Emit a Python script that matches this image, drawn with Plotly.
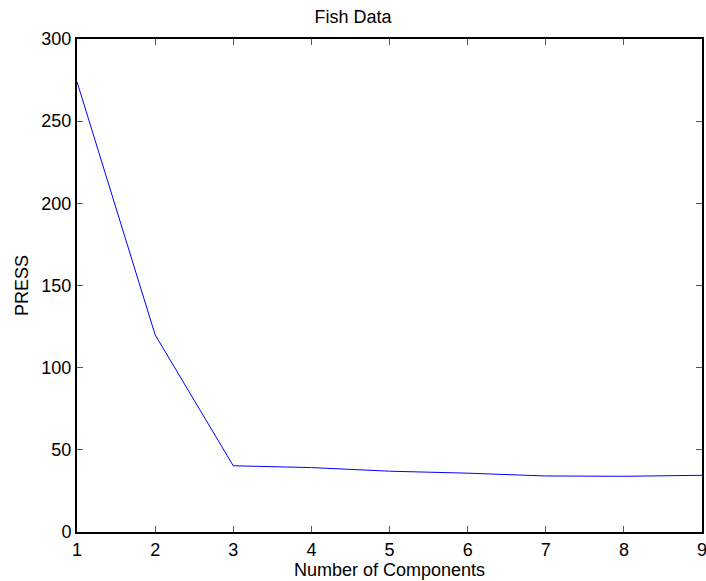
import plotly.graph_objects as go

components = [1, 2, 3, 4, 5, 6, 7, 8, 9]
press = [274, 120, 40.3, 39.2, 37, 35.8, 34.1, 33.9, 34.5]
x_ticks = [1, 2, 3, 4, 5, 6, 7, 8, 9]
y_ticks = [0, 50, 100, 150, 200, 250, 300]

fig = go.Figure(go.Scatter(x=components, y=press, mode="lines",
                           line=dict(color="#0000ff", width=1)))

axis_common = dict(showgrid=False, zeroline=False, showline=True, linecolor="black",
                   linewidth=2, mirror="allticks", ticks="inside", ticklen=6,
                   tickwidth=1, tickcolor="#555555", automargin=False,
                   tickfont=dict(size=18, color="black"))

fig.update_layout(
    width=706, height=581,
    paper_bgcolor="white", plot_bgcolor="white",
    margin=dict(l=77, r=4, t=39, b=49),
    font=dict(family="Liberation Sans, Arial, sans-serif", color="black"),
    title=dict(text="Fish Data", x=0.5, xanchor="center", y=0.9716, yanchor="middle",
               font=dict(size=18)),
    showlegend=False,
)
fig.update_xaxes(range=[1, 9], tickvals=x_ticks, ticklabeloverflow="allow",
                 title=dict(text="Number of Components", font=dict(size=18), standoff=4),
                 **axis_common)
fig.update_yaxes(range=[0, 300], tickvals=y_ticks,
                 title=dict(text="PRESS", font=dict(size=18), standoff=8),
                 **axis_common)

fig.write_html(
    "out.html",
    config={"displayModeBar": False},
    post_script="document.body.style.margin='0';document.body.style.overflow='hidden';",
)
